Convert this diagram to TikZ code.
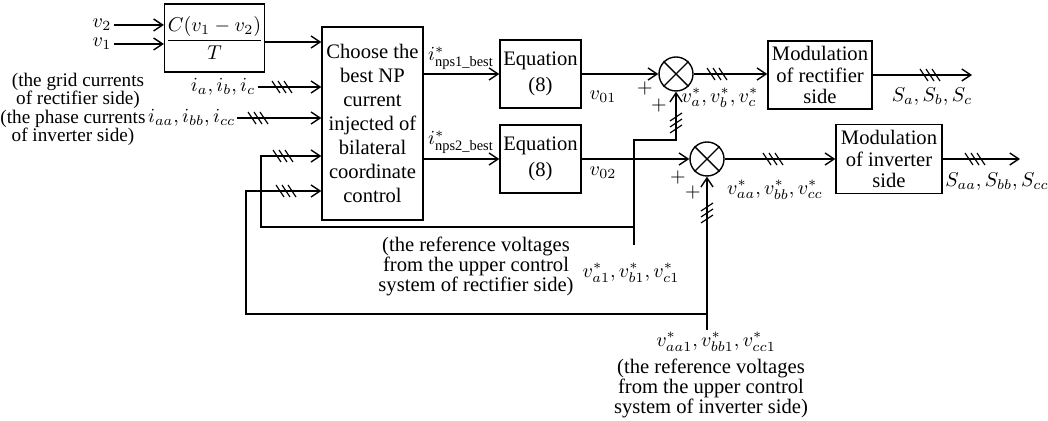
\documentclass[tikz,border=0pt]{standalone}
\usepackage{amsmath}
\usepackage{fontspec}
\setmainfont{Liberation Serif}
\usetikzlibrary{arrows.meta}
\tikzset{
  arr/.style={-{Straight Barb[length=4.5pt,width=6pt]}},
  block/.style={draw, align=center, inner sep=0.5pt},
  lbl/.style={inner sep=1pt},
  sidetxt/.style={inner sep=0pt, align=center, font=\fontsize{9.6}{9.3}\selectfont},
  sumnode/.style={draw, circle, minimum size=17pt, inner sep=0pt},
  htick/.pic={\foreach \d in {-6,0,6}{\draw[line width=0.6pt] (\d-4,-6) -- (\d+4,6);}},
  vtick/.pic={\foreach \d in {-6,0,6}{\draw[line width=0.6pt] (-6,\d+4) -- (6,\d-4);}}
}
\begin{document}
\begin{tikzpicture}[x=0.5pt, y=-0.5pt, line width=0.7pt, font=\fontsize{10.3}{10}\selectfont]
\useasboundingbox (0,0) rectangle (1048,421);

% blocks
\node[block, minimum width=48.5pt, minimum height=34pt] (cbox) at (214.5,38) {$\dfrac{C(v_1-v_2)}{T}$};
\node[block, minimum width=50.5pt, minimum height=96.5pt, font=\fontsize{10.3}{12}\selectfont] (main) at (372.5,123.5)
  {Choose the\\best NP\\current\\injected of\\bilateral\\coordinate\\control};
\node[block, minimum width=40.5pt, minimum height=34pt, font=\fontsize{10.3}{13}\selectfont] (eq1) at (540.5,74) {Equation\\(8)};
\node[block, minimum width=40.5pt, minimum height=34pt, font=\fontsize{10.3}{13}\selectfont] (eq2) at (540.5,159) {Equation\\(8)};
\node[block, minimum width=52pt, minimum height=34pt, font=\fontsize{10.3}{10.75}\selectfont] (mod1) at (820,75) {Modulation\\of rectifier\\side};
\node[block, minimum width=53pt, minimum height=34.5pt, font=\fontsize{10.3}{10.75}\selectfont] (mod2) at (889,159) {Modulation\\of inverter\\side};

% summing junctions
\node[sumnode] (s1) at (676,74) {};
\node[sumnode] (s2) at (707,159) {};
\draw (s1.north east) -- (s1.south west) (s1.north west) -- (s1.south east);
\draw (s2.north east) -- (s2.south west) (s2.north west) -- (s2.south east);

% input labels
\node[inner sep=0pt, anchor=east] (v2) at (112,25) {$v_2$};
\node[inner sep=0pt, anchor=east] (v1) at (112,44) {$v_1$};
\node[lbl, anchor=east] (ia) at (258,87) {$i_a, i_b, i_c$};
\node[inner sep=0.5pt, anchor=east] (iaa) at (237,118) {$i_{aa}, i_{bb}, i_{cc}$};
\node[sidetxt] (gridtxt) at (78,91) {(the grid currents\\of rectifier side)};
\node[sidetxt] (phasetxt) at (73,128) {(the phase currents\\of inverter side)};

% signal labels
\node[lbl] (inps1) at (461,58) {$i^*_{\text{nps1\_best}}$};
\node[lbl] (inps2) at (461,142) {$i^*_{\text{nps2\_best}}$};
\node[lbl] (v01) at (603,97) {$v_{01}$};
\node[lbl] (v02) at (603,173) {$v_{02}$};
\node[lbl] (vabc) at (720,98) {$v_a^*, v_b^*, v_c^*$};
\node[lbl] (vaabbcc) at (775,190) {$v_{aa}^*, v_{bb}^*, v_{cc}^*$};
\node[lbl] (sabc) at (932,97) {$S_a, S_b, S_c$};
\node[lbl] (saabbcc) at (997,182) {$S_{aa}, S_{bb}, S_{cc}$};
\node[lbl] (p1) at (645,89) {$+$};
\node[lbl] (p2) at (659,106) {$+$};
\node[lbl] (p3) at (678,178) {$+$};
\node[lbl] (p4) at (693,193) {$+$};

% reference voltage sources
\node[lbl, align=center] (rtxt1) at (476,266) {(the reference voltages\\from the upper control\\system of rectifier side)};
\node[lbl] (va1) at (631,273) {$v_{a1}^*, v_{b1}^*, v_{c1}^*$};
\node[lbl] (vaa1) at (716,342) {$v_{aa1}^*, v_{bb1}^*, v_{cc1}^*$};
\node[lbl, align=center] (rtxt2) at (711,388) {(the reference voltages\\from the upper control\\system of inverter side)};

% route points
\coordinate (r1) at (634,245);
\coordinate (k1) at (676,140);
\coordinate (j1) at (634,227);
\coordinate (f1) at (261,156);
\coordinate (r2) at (707,330);
\coordinate (j2) at (707,314);
\coordinate (f2) at (246,191);
\coordinate (o1) at (972,75);
\coordinate (o2) at (1020,159);

% connectors
\draw[arr] ([xshift=1pt]v2.east) -- (v2.east -| cbox.west);
\draw[arr] ([xshift=1pt]v1.east) -- (v1.east -| cbox.west);
\draw[arr] ([yshift=-2pt]cbox.east) -- ([yshift=-2pt]cbox.east -| main.west);
\draw[arr] (ia.east) -- (ia.east -| main.west);
\pic at (282,87) {htick};
\draw[arr] (iaa.east) -- (iaa.east -| main.west);
\pic at (258,118) {htick};

\draw[arr] (main.east |- eq1.west) -- (eq1.west);
\draw[arr] (main.east |- eq2.west) -- (eq2.west);
\draw[arr] (eq1.east) -- (s1.west);
\draw[arr] (eq2.east) -- (s2.west);

\draw[arr] (r1) |- (k1) -- (s1.south);
\pic at (676,123) {vtick};
\draw[arr] (j1) -| (f1) -- (f1 -| main.west);
\pic at (283,156) {htick};

\draw[arr] (r2) -- (s2.south);
\pic at (707,213) {vtick};
\draw[arr] (j2) -| (f2) -- (f2 -| main.west);
\pic at (286,191) {htick};

\draw[arr] (s1.east) -- (s1.east -| mod1.west);
\pic at (717,74) {htick};
\draw[arr] (mod1.east) -- (o1);
\pic at (930,75) {htick};
\draw[arr] (s2.east) -- (mod2.west);
\pic at (773,159) {htick};
\draw[arr] (mod2.east) -- (o2);
\pic at (975,159) {htick};
\end{tikzpicture}
\end{document}
